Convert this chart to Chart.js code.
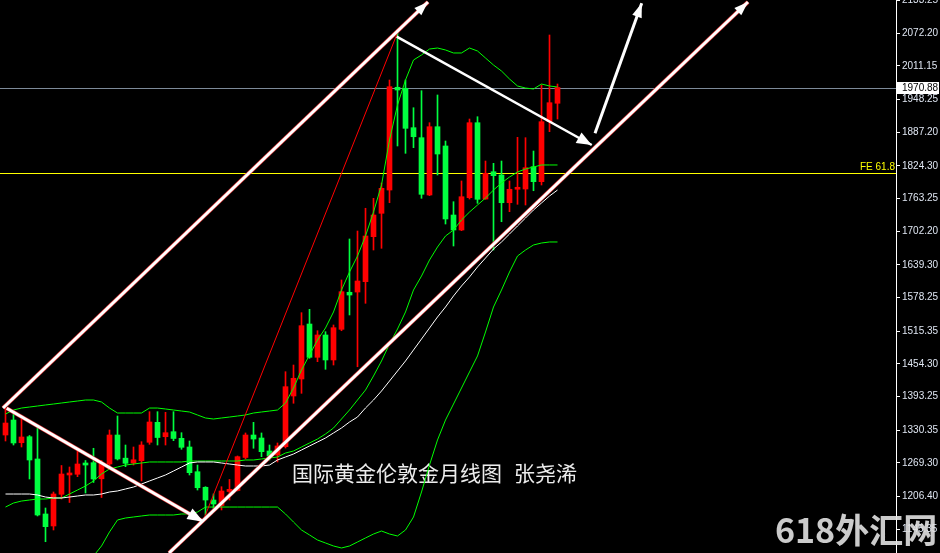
<!DOCTYPE html>
<html><head><meta charset="utf-8">
<script src="https://cdn.jsdelivr.net/npm/chart.js@4/dist/chart.umd.min.js"></script>
<style>html,body{margin:0;padding:0;background:#000;overflow:hidden}canvas{display:block}</style>
</head><body>
<canvas id="c" width="940" height="553"></canvas>
<script>
// ---- categories (monthly candles, Jul 2016 - Apr 2022) ----
const months = ['2016.07','2016.08','2016.09','2016.10','2016.11','2016.12',
'2017.01','2017.02','2017.03','2017.04','2017.05','2017.06','2017.07','2017.08','2017.09','2017.10','2017.11','2017.12',
'2018.01','2018.02','2018.03','2018.04','2018.05','2018.06','2018.07','2018.08','2018.09','2018.10','2018.11','2018.12',
'2019.01','2019.02','2019.03','2019.04','2019.05','2019.06','2019.07','2019.08','2019.09','2019.10','2019.11','2019.12',
'2020.01','2020.02','2020.03','2020.04','2020.05','2020.06','2020.07','2020.08','2020.09','2020.10','2020.11','2020.12',
'2021.01','2021.02','2021.03','2021.04','2021.05','2021.06','2021.07','2021.08','2021.09','2021.10','2021.11','2021.12',
'2022.01','2022.02','2022.03','2022.04'];

// ---- OHLC ----
const open = [1321.5,1349.5,1307.1,1318.3,1276.7,1173.9,1151.5,1210.7,1246.8,1248.1,
1269.2,1269.8,1239.7,1267.3,1321.5,1278.2,1269.2,1273.5,1307.9,1345.2,
1318.3,1327.7,1315.3,1299.1,1252.9,1223.8,1200.0,1189.8,1215.9,1217.8,
1279.5,1321.5,1315.9,1291.6,1284.1,1299.7,1394.4,1426.2,1528.9,1466.7,
1508.4,1461.7,1519.0,1588.2,1588.7,1608.0,1692.1,1735.8,1779.3,1971.3,
1969.4,1895.8,1877.1,1770.0,1897.6,1861.6,1732.6,1704.6,1765.0,1905.1,
1762.5,1813.5,1807.4,1755.6,1780.7,1781.2,1822.9,1794.9,1907.0,1941.4];
const high = [1373.8,1366.4,1355.7,1320.6,1336.5,1185.1,1215.0,1264.5,1261.7,1291.6,
1273.9,1296.7,1273.9,1330.9,1357.0,1302.8,1299.1,1309.0,1365.1,1365.1,
1363.9,1365.1,1325.8,1310.3,1265.4,1224.9,1211.3,1224.9,1238.4,1282.3,
1325.3,1345.2,1325.3,1302.8,1306.6,1439.8,1452.3,1550.1,1556.4,1516.4,
1514.6,1527.1,1611.2,1687.8,1702.7,1745.2,1763.8,1792.4,1984.9,2072.7,
1984.9,1933.1,1964.9,1905.1,1956.9,1870.9,1757.5,1796.2,1912.0,1916.3,
1833.5,1829.2,1833.5,1796.2,1877.8,1877.1,1852.2,1975.6,2069.0,1977.4];
const low = [1310.3,1302.8,1299.1,1239.3,1170.2,1122.1,1144.0,1201.9,1195.4,1243.6,
1213.1,1232.8,1204.7,1263.6,1274.8,1262.3,1265.4,1235.6,1304.1,1302.8,
1302.8,1310.9,1294.8,1246.8,1218.7,1172.0,1183.2,1181.4,1200.0,1216.9,
1276.7,1296.7,1281.0,1274.8,1271.1,1297.2,1380.8,1399.4,1464.8,1458.5,
1444.3,1452.3,1516.4,1545.8,1449.1,1567.6,1667.2,1670.4,1755.6,1861.6,
1847.9,1858.4,1763.8,1768.7,1807.4,1715.8,1674.7,1703.3,1762.5,1754.5,
1762.0,1667.2,1720.1,1738.8,1752.6,1751.3,1778.0,1788.7,1888.3,1912.0];
const close = [1343.9,1306.6,1317.8,1274.8,1172.0,1150.2,1211.3,1248.6,1249.6,1267.3,
1265.4,1239.3,1267.3,1321.5,1276.7,1268.6,1275.2,1302.8,1345.8,1316.8,
1325.8,1315.0,1298.5,1251.1,1223.0,1200.0,1192.6,1216.9,1220.0,1281.0,
1321.5,1314.0,1290.3,1282.3,1301.0,1411.8,1427.5,1525.8,1466.7,1508.4,
1461.7,1522.0,1589.3,1583.1,1609.3,1693.4,1732.6,1782.5,1972.4,1966.2,
1894.6,1878.9,1771.3,1897.6,1846.6,1725.2,1704.6,1766.8,1905.1,1762.0,
1810.6,1806.1,1755.6,1780.7,1782.5,1821.0,1794.9,1907.0,1942.5,1970.9];

// ---- Bollinger bands and moving average ----
const bbUpper = [1360.7,1368.2,1371.9,1373.8,1375.7,1377.6,1379.4,1381.3,1383.2,1385.0,
1386.9,1386.9,1383.2,1371.9,1362.6,1362.6,1362.6,1362.6,1371.9,1371.9,
1370.1,1368.2,1366.3,1364.5,1358.9,1353.3,1351.4,1353.3,1355.1,1357.0,
1358.9,1362.6,1364.5,1366.3,1368.2,1381.3,1409.3,1443.0,1471.0,1499.0,
1521.5,1551.4,1592.5,1626.1,1656.0,1693.4,1738.2,1788.7,1872.8,1938.2,
1984.9,2022.3,2031.6,2042.8,2044.7,2041.0,2035.4,2035.4,2044.7,2039.1,
2026.0,2012.9,2001.7,1986.8,1973.7,1969.9,1968.1,1977.4,1973.7,1971.8];
const bbMiddle = [1186.9,1194.4,1198.1,1200.0,1201.9,1201.9,1203.8,1203.8,1211.2,1218.7,
1226.2,1235.6,1248.6,1258.0,1261.7,1265.4,1267.3,1269.2,1271.1,1271.1,
1271.1,1271.1,1271.1,1272.9,1272.9,1272.9,1272.9,1272.9,1272.9,1272.9,
1274.8,1274.8,1276.7,1278.5,1280.4,1287.9,1291.6,1299.1,1306.6,1314.0,
1323.4,1334.6,1351.4,1368.2,1386.9,1405.6,1431.8,1459.8,1491.6,1519.6,
1551.4,1592.5,1618.6,1648.5,1672.8,1693.4,1704.6,1723.3,1738.2,1751.3,
1764.4,1779.3,1792.4,1803.6,1813.0,1818.6,1822.3,1826.1,1826.1,1826.1];
const bbLower = [1013.2,1020.6,1024.4,1026.2,1028.1,1026.2,1028.1,1026.2,1043.1,1059.9,
1073.0,1095.4,1114.1,1140.3,1162.7,1166.4,1168.3,1170.2,1172.0,1172.0,
1172.0,1172.0,1173.9,1173.9,1177.6,1186.9,1186.9,1186.9,1186.9,1186.9,
1186.9,1186.9,1186.9,1186.9,1186.9,1173.9,1158.9,1144.0,1134.7,1125.3,
1119.7,1114.1,1110.4,1114.1,1121.6,1129.1,1136.5,1142.1,1136.5,1132.8,
1144.0,1168.3,1215.0,1265.4,1312.2,1349.5,1379.4,1409.3,1439.3,1469.2,
1514.0,1560.7,1592.5,1626.1,1656.0,1667.2,1676.6,1680.3,1682.2,1682.2];
const maWhite = [1211.2,1211.2,1211.2,1211.2,1209.4,1205.6,1203.8,1203.8,1205.6,1207.5,
1209.4,1209.4,1211.2,1215.0,1216.9,1220.6,1224.3,1229.9,1235.6,1241.2,
1246.8,1254.2,1261.7,1269.2,1271.1,1271.1,1271.1,1269.2,1267.3,1265.4,
1263.6,1263.6,1263.6,1265.4,1274.8,1280.4,1286.0,1293.5,1301.0,1308.4,
1315.9,1325.3,1334.6,1345.8,1355.1,1372.0,1386.9,1403.7,1422.4,1441.1,
1459.8,1480.4,1500.9,1521.4,1542.0,1560.7,1581.3,1600.0,1616.8,1635.5,
1652.2,1669.1,1682.2,1697.1,1712.1,1727.0,1742.0,1755.1,1768.1,1779.3];

// ---- drawn objects (candle index, price) ----
const channelTop    = [[-0.31, 1372.0], [52.81, 2130.7]];
const channelBottom = [[20.44, 1101.0], [92.81, 2130.7]];
const arrowDownLeft = [[0.15, 1371.4], [24.73, 1159.5]];
const arrowDownPeak = [[48.90, 2065.8], [73.28, 1863.4]];
const arrowUp       = [[73.69, 1885.3], [79.53, 2128.2]];
const redLine       = [[24.69, 1160.8], [48.94, 2070.9]];

// ---- price axis ----
const tickValues = [2133.25,2072.20,2011.15,1948.25,1887.20,1824.30,1763.25,1702.20,1639.30,1578.25,1515.35,1454.30,1393.25,1330.35,1269.30,1206.40,1145.35];
const tickLabels = ['2133.25','2072.20','2011.15','1948.25','1887.20','1824.30','1763.25','1702.20','1639.30','1578.25','1515.35','1454.30','1393.25','1330.35','1269.30','1206.40','1145.35'];
const currentPrice = 1970.88;
const currentLabel = '1970.88';
const fe618 = 1810.6;
const feLabel = 'FE 61.8';
const titleMain = '国际黄金伦敦金月线图';
const titleAuthor = '张尧浠';
const watermark = '618外汇网';

const UP = '#ff0000', DOWN = '#00ff40';
const candleColor = months.map((m, i) => close[i] >= open[i] ? UP : DOWN);
const series = arr => arr.map((v, i) => ({x: i, y: v}));
const pts = arr => arr.map(p => ({x: p[0], y: p[1]}));

const overlay = {
  id: 'overlay',
  beforeDraw(chart) {
    const c = chart.ctx;
    c.save(); c.fillStyle = '#000'; c.fillRect(0, 0, chart.width, chart.height); c.restore();
  },
  beforeDatasetsDraw(chart) {
    const c = chart.ctx, a = chart.chartArea, y = chart.scales.y;
    c.save();
    const gy = Math.round(y.getPixelForValue(currentPrice)) + 0.5;
    c.strokeStyle = '#7d8a99'; c.lineWidth = 1;
    c.beginPath(); c.moveTo(a.left, gy); c.lineTo(a.right, gy); c.stroke();
    const fy = Math.round(y.getPixelForValue(fe618)) + 0.5;
    c.strokeStyle = '#ffff00';
    c.beginPath(); c.moveTo(a.left, fy); c.lineTo(a.right, fy); c.stroke();
    c.font = '21px "Noto Sans CJK SC"';
    c.fillStyle = '#ececec'; c.textBaseline = 'middle'; c.textAlign = 'left';
    c.fillText(titleMain, 292, 473);
    c.fillText(titleAuthor, 514, 473);
    c.restore();
  },
  afterDatasetsDraw(chart) {
    const c = chart.ctx;
    chart.data.datasets.forEach((ds, i) => {
      if (!ds.arrowHead) return;
      const d = chart.getDatasetMeta(i).data;
      const p0 = d[d.length - 2], p1 = d[d.length - 1];
      const ang = Math.atan2(p1.y - p0.y, p1.x - p0.x);
      const L = ds.arrowHead[0], W = ds.arrowHead[1];
      const bx = p1.x - L * Math.cos(ang), by = p1.y - L * Math.sin(ang);
      c.save(); c.fillStyle = '#ffffff';
      c.beginPath(); c.moveTo(p1.x, p1.y);
      c.lineTo(bx + W * Math.sin(ang), by - W * Math.cos(ang));
      c.lineTo(bx - W * Math.sin(ang), by + W * Math.cos(ang));
      c.closePath(); c.fill(); c.restore();
    });
  },
  afterDraw(chart) {
    const c = chart.ctx, a = chart.chartArea, y = chart.scales.y;
    c.save();
    const gy = y.getPixelForValue(currentPrice);
    c.fillStyle = '#ffffff'; c.fillRect(a.right + 1, Math.round(gy) - 6, 42, 12);
    c.fillStyle = '#000000'; c.font = '10px "Liberation Sans"'; c.textBaseline = 'middle'; c.textAlign = 'left';
    c.fillText(currentLabel, a.right + 6, Math.round(gy));
    const fy = y.getPixelForValue(fe618);
    c.fillStyle = '#ffff00'; c.textAlign = 'right'; c.textBaseline = 'alphabetic';
    c.fillText(feLabel, a.right - 1, Math.round(fy) - 3);
    c.font = 'bold 34px "Noto Sans CJK SC"'; c.fillStyle = 'rgba(225,225,225,0.9)';
    c.textAlign = 'left'; c.textBaseline = 'middle';
    c.fillText(watermark, 775, 530);
    c.restore();
  }
};

const lineDs = (data, color, width, order, extra) => Object.assign({
  type: 'line', data, borderColor: color, borderWidth: width, pointRadius: 0,
  tension: 0, fill: false, order, clip: false
}, extra || {});

new Chart(document.getElementById('c'), {
  type: 'line',
  data: {
    datasets: [
      { type: 'bar', data: months.map((m, i) => ({x: i, y: [low[i], high[i]]})),
        backgroundColor: candleColor, barThickness: 1, grouped: false, borderWidth: 0, order: 20 },
      { type: 'bar', data: months.map((m, i) => ({x: i, y: [open[i], close[i]]})),
        backgroundColor: candleColor, barThickness: 5, minBarLength: 2, grouped: false, borderWidth: 0, order: 19 },
      Object.assign(lineDs(series(bbUpper), '#00ff00', 1, 10), {clip: 0}),
      Object.assign(lineDs(series(bbMiddle), '#00ff00', 1, 10), {clip: 0}),
      Object.assign(lineDs(series(bbLower), '#00ff00', 1, 10), {clip: 0}),
      Object.assign(lineDs(series(maWhite), '#ffffff', 1, 9), {clip: 0}),
      lineDs(pts(redLine), '#ff0000', 1, 6),
      lineDs(pts(channelTop), '#e03030', 4, 5),
      lineDs(pts(channelBottom), '#e03030', 4, 5),
      lineDs(pts(arrowDownLeft), '#e03030', 4, 5),
      lineDs(pts(channelTop), '#ffffff', 3, 1, {arrowHead: [14, 5]}),
      lineDs(pts(channelBottom), '#ffffff', 3, 1, {arrowHead: [14, 5]}),
      lineDs(pts(arrowDownLeft), '#ffffff', 3, 1, {arrowHead: [16, 6]}),
      lineDs(pts(arrowDownPeak), '#ffffff', 2.5, 1, {arrowHead: [15, 6]}),
      lineDs(pts(arrowUp), '#ffffff', 3, 1, {arrowHead: [14, 5]})
    ]
  },
  options: {
    responsive: false, animation: false, events: [],
    layout: { padding: 0 },
    plugins: { legend: { display: false }, tooltip: { enabled: false } },
    scales: {
      x: { type: 'linear', display: false, min: -0.6875, max: 111.3125, offset: false },
      y: {
        type: 'linear', position: 'right', min: 1101.0, max: 2134.4, bounds: 'data',
        afterBuildTicks: s => { s.ticks = tickValues.map(v => ({value: v})); },
        afterFit: s => { s.width = 44; s.paddingTop = 0; s.paddingBottom = 0; },
        ticks: { autoSkip: false, color: '#dfe6f2', padding: 2,
          font: { family: '"Liberation Sans", Arial, sans-serif', size: 10 },
          callback: (v, i) => tickLabels[i] },
        grid: { drawOnChartArea: false, drawTicks: true, tickLength: 4, color: '#ffffff' },
        border: { display: true, color: '#ffffff', width: 1 }
      }
    }
  },
  plugins: [overlay]
});
</script>
</body></html>
